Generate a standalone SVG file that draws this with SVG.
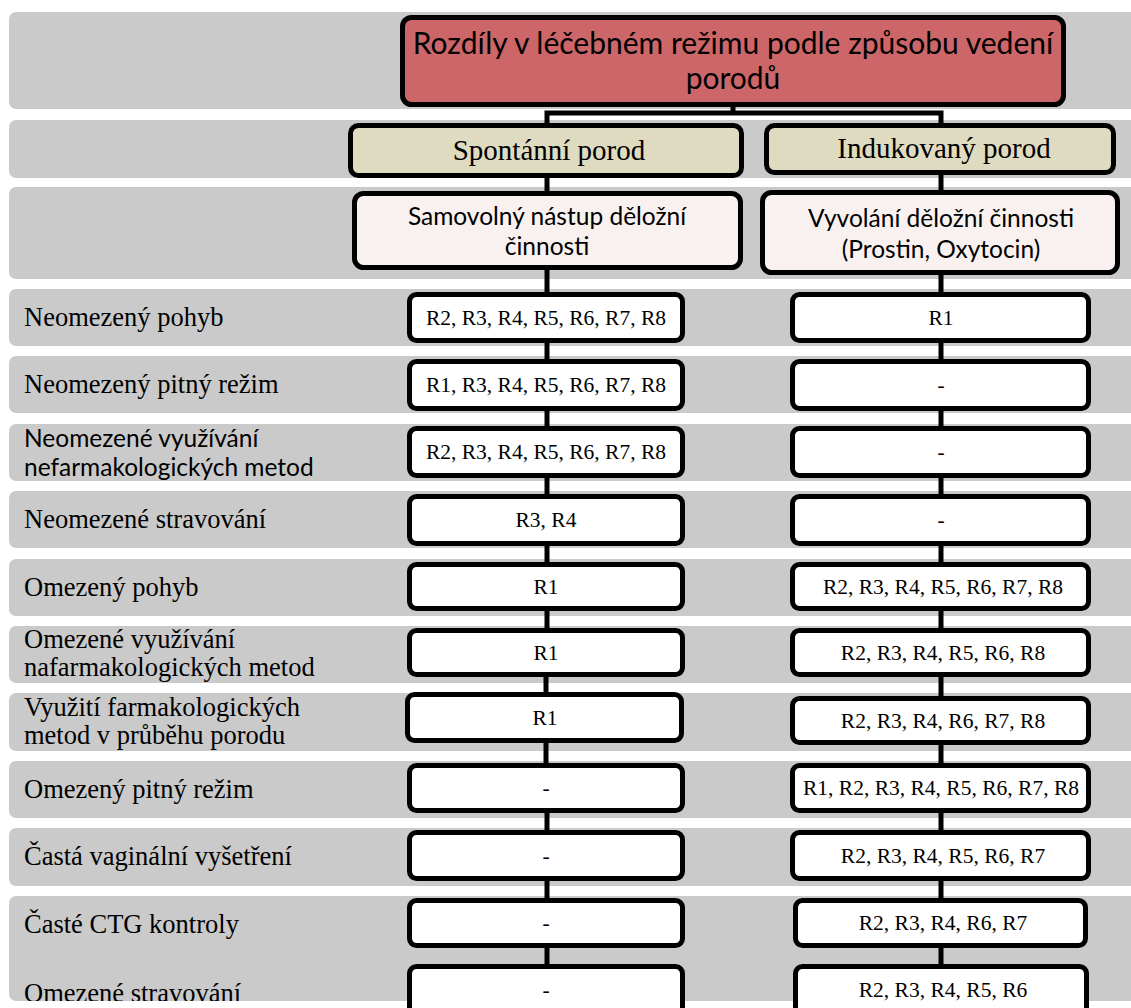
<svg xmlns="http://www.w3.org/2000/svg" width="1131" height="1008" viewBox="0 0 1131 1008">
  <style>
    .band { fill: #cacaca; }
    .box { stroke: #000; stroke-width: 5; }
    .title { fill: #cd6668; }
    .kind { fill: #dfdbc0; }
    .desc { fill: #f8f1ef; }
    .cell { fill: #ffffff; }
    .wire { stroke: #000; stroke-width: 5; fill: none; }
    .serif { font-family: "Liberation Serif", "Times New Roman", serif; fill: #000; }
    .sans { font-family: Lato, "Liberation Sans", sans-serif; fill: #000; }
    .lbl { font-size: 26.5px; }
    .lbls { font-size: 24.5px; }
    .val { font-size: 21.5px; text-anchor: middle; }
    .mid { text-anchor: middle; }
  </style>
  <defs>
    <clipPath id="pageClip">
      <rect x="0" y="0" width="1131" height="1001"/>
    </clipPath>
  </defs>

  <rect width="1131" height="1008" fill="#ffffff"/>

  <!-- row bands -->
  <g id="bands">
    <rect class="band" x="9" y="12" width="1140" height="97" rx="7"/>
    <rect class="band" x="9" y="120" width="1140" height="58" rx="7"/>
    <rect class="band" x="9" y="187" width="1140" height="92" rx="7"/>
    <rect class="band" x="9" y="289" width="1140" height="57" rx="7"/>
    <rect class="band" x="9" y="356" width="1140" height="57" rx="7"/>
    <rect class="band" x="9" y="424" width="1140" height="57" rx="7"/>
    <rect class="band" x="9" y="491" width="1140" height="57" rx="7"/>
    <rect class="band" x="9" y="559" width="1140" height="57" rx="7"/>
    <rect class="band" x="9" y="626" width="1140" height="57" rx="7"/>
    <rect class="band" x="9" y="693" width="1140" height="58" rx="7"/>
    <rect class="band" x="9" y="761" width="1140" height="57" rx="7"/>
    <rect class="band" x="9" y="828" width="1140" height="58" rx="7"/>
    <rect class="band" x="9" y="896" width="1140" height="105" rx="7"/>
  </g>

  <!-- row labels -->
  <g id="labels">
    <text class="serif lbl" x="24" y="326">Neomezený pohyb</text>
    <text class="serif lbl" x="24" y="393">Neomezený pitný režim</text>
    <text class="sans lbls" x="24" y="447">Neomezené využívání</text>
    <text class="sans lbls" x="24" y="476">nefarmakologických metod</text>
    <text class="serif lbl" x="24" y="528">Neomezené stravování</text>
    <text class="serif lbl" x="24" y="596">Omezený pohyb</text>
    <text class="serif lbl" x="24" y="648">Omezené využívání</text>
    <text class="serif lbl" x="24" y="676">nafarmakologických metod</text>
    <text class="serif lbl" x="24" y="716">Využití farmakologických</text>
    <text class="serif lbl" x="24" y="744">metod v průběhu porodu</text>
    <text class="serif lbl" x="24" y="798">Omezený pitný režim</text>
    <text class="serif lbl" x="24" y="865">Častá vaginální vyšetření</text>
    <text class="serif lbl" x="24" y="933">Časté CTG kontroly</text>
    <text class="serif lbl" x="24" y="1002" clip-path="url(#pageClip)">Omezené stravování</text>
  </g>

  <!-- connectors -->
  <g id="connectors">
    <polyline class="wire" points="733,107 733,113"/>
    <polyline class="wire" points="547,123 547,113 941,113 941,123"/>
    <line class="wire" x1="547" y1="178" x2="547" y2="191"/>
    <line class="wire" x1="941" y1="175" x2="941" y2="190"/>
    <line class="wire" x1="547" y1="270" x2="547" y2="292"/>
    <line class="wire" x1="941" y1="275" x2="941" y2="292"/>
    <line class="wire" x1="547" y1="343" x2="547" y2="359"/>
    <line class="wire" x1="941" y1="343" x2="941" y2="359"/>
    <line class="wire" x1="547" y1="411" x2="547" y2="427"/>
    <line class="wire" x1="941" y1="411" x2="941" y2="427"/>
    <line class="wire" x1="547" y1="478" x2="547" y2="494"/>
    <line class="wire" x1="941" y1="478" x2="941" y2="494"/>
    <line class="wire" x1="547" y1="546" x2="547" y2="562"/>
    <line class="wire" x1="941" y1="546" x2="941" y2="562"/>
    <line class="wire" x1="547" y1="611" x2="547" y2="629"/>
    <line class="wire" x1="941" y1="611" x2="941" y2="629"/>
    <line class="wire" x1="546" y1="677" x2="546" y2="694"/>
    <line class="wire" x1="941" y1="677" x2="941" y2="696"/>
    <line class="wire" x1="546" y1="743" x2="546" y2="764"/>
    <line class="wire" x1="941" y1="745" x2="941" y2="764"/>
    <line class="wire" x1="547" y1="813" x2="547" y2="831"/>
    <line class="wire" x1="941" y1="813" x2="941" y2="831"/>
    <line class="wire" x1="547" y1="881" x2="547" y2="899"/>
    <line class="wire" x1="941" y1="881" x2="941" y2="899"/>
    <line class="wire" x1="547" y1="948" x2="547" y2="966"/>
    <line class="wire" x1="941" y1="948" x2="941" y2="966"/>
  </g>

  <!-- heading -->
  <g id="n-title">
    <rect class="box title" x="402.5" y="17.5" width="661" height="87" rx="9"/>
    <text class="sans mid" x="733" y="54" font-size="30">Rozdíly v léčebném režimu podle způsobu vedení</text>
    <text class="sans mid" x="733" y="89" font-size="30">porodů</text>
  </g>

  <!-- kinds of labour -->
  <g id="n-spontanni">
    <rect class="box kind" x="350.5" y="125.5" width="391" height="50" rx="8"/>
    <text class="serif mid" x="549" y="160" font-size="29">Spontánní porod</text>
  </g>
  <g id="n-indukovany">
    <rect class="box kind" x="766.5" y="125.5" width="347" height="47" rx="8"/>
    <text class="serif mid" x="944" y="158" font-size="29">Indukovaný porod</text>
  </g>

  <!-- onset of contractions -->
  <g id="n-samovolny">
    <rect class="box desc" x="354.5" y="193.5" width="386" height="74" rx="9"/>
    <text class="sans mid" x="547" y="225" font-size="24.5">Samovolný nástup děložní</text>
    <text class="sans mid" x="547" y="255" font-size="24.5">činnosti</text>
  </g>
  <g id="n-vyvolani">
    <rect class="box desc" x="762.5" y="192.5" width="355" height="80" rx="9"/>
    <text class="sans mid" x="941" y="227" font-size="24.5">Vyvolání děložní činnosti</text>
    <text class="sans mid" x="941" y="258" font-size="24.5">(Prostin, Oxytocin)</text>
  </g>

  <!-- spontaneous labour column -->
  <g id="s1"><rect class="box cell" x="409.5" y="294.5" width="273" height="46" rx="7"/><text class="serif val" x="546" y="325">R2, R3, R4, R5, R6, R7, R8</text></g>
  <g id="s2"><rect class="box cell" x="409.5" y="361.5" width="273" height="47" rx="7"/><text class="serif val" x="546" y="392">R1, R3, R4, R5, R6, R7, R8</text></g>
  <g id="s3"><rect class="box cell" x="409.5" y="428.5" width="273" height="47" rx="7"/><text class="serif val" x="546" y="459">R2, R3, R4, R5, R6, R7, R8</text></g>
  <g id="s4"><rect class="box cell" x="409.5" y="496.5" width="273" height="47" rx="7"/><text class="serif val" x="546" y="527">R3, R4</text></g>
  <g id="s5"><rect class="box cell" x="409.5" y="564.5" width="273" height="44" rx="7"/><text class="serif val" x="546" y="594">R1</text></g>
  <g id="s6"><rect class="box cell" x="409.5" y="630.5" width="273" height="44" rx="7"/><text class="serif val" x="546" y="660">R1</text></g>
  <g id="s7"><rect class="box cell" x="407.5" y="694.5" width="274" height="46" rx="7"/><text class="serif val" x="545" y="725">R1</text></g>
  <g id="s8"><rect class="box cell" x="409.5" y="765.5" width="273" height="45" rx="7"/><text class="serif val" x="546" y="795">-</text></g>
  <g id="s9"><rect class="box cell" x="409.5" y="832.5" width="273" height="46" rx="7"/><text class="serif val" x="546" y="863">-</text></g>
  <g id="s10"><rect class="box cell" x="409.5" y="900.5" width="273" height="45" rx="7"/><text class="serif val" x="546" y="930">-</text></g>
  <g id="s11"><rect class="box cell" x="409.5" y="966.5" width="273" height="50" rx="7"/><text class="serif val" x="546" y="997">-</text></g>

  <!-- induced labour column -->
  <g id="i1"><rect class="box cell" x="792.5" y="294.5" width="296" height="46" rx="7"/><text class="serif val" x="941" y="325">R1</text></g>
  <g id="i2"><rect class="box cell" x="792.5" y="361.5" width="296" height="47" rx="7"/><text class="serif val" x="941" y="392">-</text></g>
  <g id="i3"><rect class="box cell" x="792.5" y="428.5" width="296" height="47" rx="7"/><text class="serif val" x="941" y="459">-</text></g>
  <g id="i4"><rect class="box cell" x="792.5" y="496.5" width="296" height="47" rx="7"/><text class="serif val" x="941" y="527">-</text></g>
  <g id="i5"><rect class="box cell" x="792.5" y="564.5" width="296" height="44" rx="7"/><text class="serif val" x="943" y="594">R2, R3, R4, R5, R6, R7, R8</text></g>
  <g id="i6"><rect class="box cell" x="792.5" y="630.5" width="296" height="44" rx="7"/><text class="serif val" x="943" y="660">R2, R3, R4, R5, R6, R8</text></g>
  <g id="i7"><rect class="box cell" x="792.5" y="698.5" width="296" height="44" rx="7"/><text class="serif val" x="943" y="728">R2, R3, R4, R6, R7, R8</text></g>
  <g id="i8"><rect class="box cell" x="792.5" y="765.5" width="296" height="45" rx="7"/><text class="serif val" x="941" y="795">R1, R2, R3, R4, R5, R6, R7, R8</text></g>
  <g id="i9"><rect class="box cell" x="792.5" y="832.5" width="296" height="46" rx="7"/><text class="serif val" x="943" y="863">R2, R3, R4, R5, R6, R7</text></g>
  <g id="i10"><rect class="box cell" x="795.5" y="900.5" width="290" height="45" rx="7"/><text class="serif val" x="943" y="930">R2, R3, R4, R6, R7</text></g>
  <g id="i11"><rect class="box cell" x="795.5" y="966.5" width="291" height="50" rx="7"/><text class="serif val" x="943" y="997">R2, R3, R4, R5, R6</text></g>
</svg>
